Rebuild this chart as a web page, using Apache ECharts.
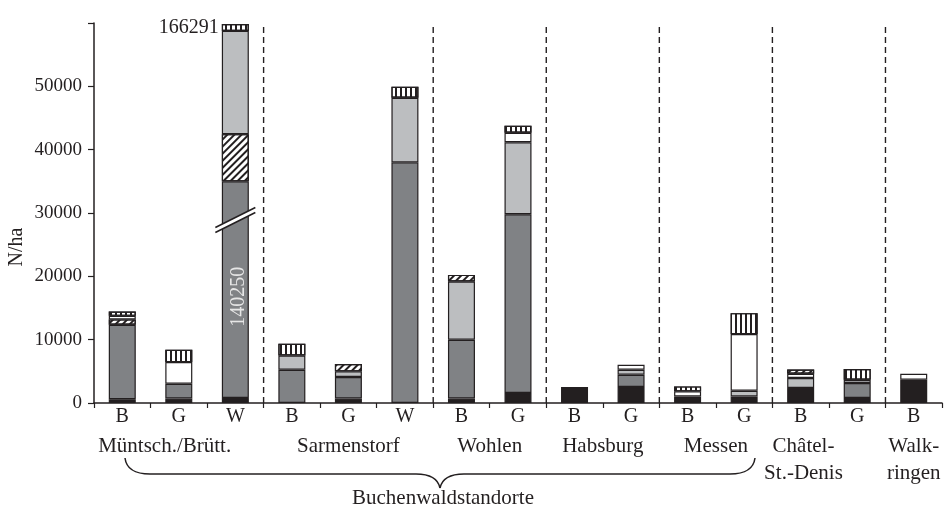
<!DOCTYPE html>
<html><head><meta charset="utf-8">
<script src="https://cdn.jsdelivr.net/npm/echarts@6/dist/echarts.min.js"></script>
<style>html,body{margin:0;padding:0;background:#fff}#c{width:946px;height:509px}</style>
</head><body><div id="c"></div>
<script>
// ---- data ----
const categories = ['B','G','W','B','G','W','B','G','B','G','B','G','B','G','B'];
const groups = ['Müntsch./Brütt.', 'Sarmenstorf', 'Wohlen', 'Habsburg', 'Messen', 'Châtel-\nSt.-Denis', 'Walk-\nringen'];
const groupSizes = [3, 3, 2, 2, 2, 2, 1];
const superGroupLabel = 'Buchenwaldstandorte';
const yName = 'N/ha';
const yTicks = [0, 10000, 20000, 30000, 40000, 50000];
const yMax = 60000;

// stacked segments, bottom to top (values shown on the broken axis for W bar)
const black     = [600, 700, 800, 0, 700, 0, 700, 1580, 2520, 2520, 1040, 1040, 2370, 790, 3670];
const darkGray  = [11750, 2340, 34200, 5250, 3400, 38000, 9280, 28220, 0, 1940, 0, 0, 0, 2370, 0];
const hatchLow  = [850, 0, 7450, 0, 0, 0, 0, 0, 0, 0, 0, 0, 0, 0, 0];
const lightGray = [0, 0, 16300, 2260, 900, 10200, 9200, 11360, 0, 800, 0, 900, 1570, 510, 0];
const white     = [560, 3420, 0, 0, 0, 0, 0, 1520, 0, 780, 800, 8940, 680, 0, 950];
const hatchHigh = [0, 0, 0, 0, 1150, 0, 1050, 0, 0, 0, 0, 0, 680, 0, 0];
const vHatch    = [690, 1940, 1100, 1840, 0, 1730, 0, 1100, 0, 0, 780, 3310, 0, 1690, 0];

const brokenIndex = 2;
const brokenDarkLabel = '140250';
const brokenTotalLabel = '166291';
const breakValue = 28900;

// ---- styles ----
const INK = '#231f20';
const FONT = 'Liberation Serif';
const border = { borderColor: INK, borderWidth: 1.2 };

function clean(arr) { return arr.map(v => v === 0 ? '-' : v); }

function barSeries(name, arr, itemStyle, extra) {
  return Object.assign({
    name, type: 'bar', stack: 'total', barWidth: 27,
    data: clean(arr), itemStyle: Object.assign({}, border, itemStyle),
    emphasis: { disabled: true }, animation: false
  }, extra || {});
}

const vDecal = { symbol: 'rect', symbolSize: 1, color: INK, dashArrayX: [2, 3], dashArrayY: [5, 0], rotation: 0 };
const dDecal = { symbol: 'rect', symbolSize: 1, color: INK, dashArrayX: [2, 3], dashArrayY: [5, 0], rotation: Math.PI / 4 };

const darkData = clean(darkGray).map((v, i) => i === brokenIndex ? {
  value: v,
  label: { show: true, position: 'inside', rotate: 90, formatter: brokenDarkLabel, color: '#e6e6e6', fontFamily: FONT, fontSize: 20, offset: [-7, 3] }
} : v);
const vData = clean(vHatch).map((v, i) => i === brokenIndex ? {
  value: v,
  label: { show: true, position: 'left', distance: 3, formatter: brokenTotalLabel, color: INK, fontFamily: FONT, fontSize: 20 }
} : v);

// group separators (category boundaries)
const boundaries = [];
{ let s = 0; for (let i = 0; i < groupSizes.length - 1; i++) { s += groupSizes[i]; boundaries.push(s); } }
// group label centres (in category units), small shifts for the original layout
const groupShift = [-0.25, 0, 0, 0, 0, -0.45, 0];
const groupCenters = [];
{ let s = 0; groupSizes.forEach((n, i) => { groupCenters.push(s + n / 2 + groupShift[i]); s += n; }); }

const chart = echarts.init(document.getElementById('c'), null, { renderer: 'canvas' });
chart.setOption({
  animation: false,
  grid: { left: 94, right: 4, top: 23, bottom: 106, containLabel: false },
  xAxis: [{
    type: 'category', data: categories, position: 'bottom',
    axisLine: { lineStyle: { color: INK, width: 1.5 } },
    axisTick: { show: true, length: 5, inside: false, lineStyle: { color: INK, width: 1.2 } },
    axisLabel: { color: INK, fontFamily: FONT, fontSize: 20, margin: 4 },
    splitLine: { show: false }
  }, {
    type: 'value', min: 0, max: categories.length, position: 'bottom', offset: 30,
    axisLine: { show: false }, axisTick: { show: false }, splitLine: { show: false },
    axisLabel: {
      customValues: groupCenters, margin: 0, color: INK, fontFamily: FONT, fontSize: 21, lineHeight: 27,
      formatter: v => { let bi = 0, bd = 1e9; groupCenters.forEach((c, i) => { if (Math.abs(c - v) < bd) { bd = Math.abs(c - v); bi = i; } }); return groups[bi]; }
    }
  }],
  yAxis: {
    type: 'value', min: 0, max: yMax, interval: 10000,
    axisLine: { show: true, lineStyle: { color: INK, width: 1.5 } },
    axisTick: { show: true, length: 6, inside: false, lineStyle: { color: INK, width: 1.2 } },
    axisLabel: { color: INK, fontFamily: FONT, fontSize: 19, margin: 12, formatter: v => yTicks.indexOf(v) >= 0 ? String(v) : '' },
    splitLine: { show: false }
  },
  series: [
    barSeries('black', black, { color: INK }),
    Object.assign(barSeries('darkGray', darkGray, { color: '#808285' }), { data: darkData }),
    barSeries('hatchLow', hatchLow, { color: '#fff', decal: dDecal }),
    barSeries('lightGray', lightGray, { color: '#bcbec0' }),
    barSeries('white', white, { color: '#fff' }),
    barSeries('hatchHigh', hatchHigh, { color: '#fff', decal: dDecal }),
    Object.assign(barSeries('vHatch', vHatch, { color: '#fff', decal: vDecal }), { data: vData }),
    {
      type: 'custom', name: 'separators', z: 1, silent: true,
      data: boundaries.map(b => [b, 0, yMax]),
      renderItem: (params, api) => {
        const half = api.size([1, 0])[0] / 2;
        const p0 = api.coord([api.value(0), api.value(1)]);
        const p1 = api.coord([api.value(0), api.value(2)]);
        const x = p0[0] - half;
        return { type: 'line', shape: { x1: x, y1: p0[1], x2: x, y2: p1[1] }, style: { stroke: INK, lineWidth: 1.4, lineDash: [6, 4] } };
      }
    },
    {
      type: 'custom', name: 'break', z: 5, silent: true,
      data: [[brokenIndex, breakValue]],
      renderItem: (params, api) => {
        const p = api.coord([api.value(0), api.value(1)]);
        const hw = 20, dy = 10, g = 2.5;
        return { type: 'group', children: [
          { type: 'polygon', shape: { points: [[p[0]-hw, p[1]+dy-g], [p[0]+hw, p[1]-dy-g], [p[0]+hw, p[1]-dy+g], [p[0]-hw, p[1]+dy+g]] }, style: { fill: '#fff' } },
          { type: 'line', shape: { x1: p[0]-hw, y1: p[1]+dy-g, x2: p[0]+hw, y2: p[1]-dy-g }, style: { stroke: INK, lineWidth: 1.5 } },
          { type: 'line', shape: { x1: p[0]-hw, y1: p[1]+dy+g, x2: p[0]+hw, y2: p[1]-dy+g }, style: { stroke: INK, lineWidth: 1.5 } }
        ]};
      }
    }
  ],
  graphic: [
    { type: 'text', x: 17, y: 247, rotation: Math.PI / 2, style: { text: yName, fill: INK, font: '20px "Liberation Serif"', align: 'center', verticalAlign: 'middle' } },
    { type: 'group', children: [
      { type: 'bezierCurve', shape: { x1: 125, y1: 458, cpx1: 127, cpy1: 474, x2: 150, y2: 474 }, style: { fill: null, stroke: INK, lineWidth: 1.5 } },
      { type: 'line', shape: { x1: 150, y1: 474, x2: 416, y2: 474 }, style: { stroke: INK, lineWidth: 1.5 } },
      { type: 'bezierCurve', shape: { x1: 416, y1: 474, cpx1: 437, cpy1: 474, x2: 440, y2: 488 }, style: { fill: null, stroke: INK, lineWidth: 1.5 } },
      { type: 'bezierCurve', shape: { x1: 440, y1: 488, cpx1: 443, cpy1: 474, x2: 464, y2: 474 }, style: { fill: null, stroke: INK, lineWidth: 1.5 } },
      { type: 'line', shape: { x1: 464, y1: 474, x2: 730, y2: 474 }, style: { stroke: INK, lineWidth: 1.5 } },
      { type: 'bezierCurve', shape: { x1: 730, y1: 474, cpx1: 753, cpy1: 474, x2: 755, y2: 458 }, style: { fill: null, stroke: INK, lineWidth: 1.5 } }
    ] },
    { type: 'text', x: 443, y: 498, style: { text: superGroupLabel, fill: INK, font: '21px "Liberation Serif"', align: 'center', verticalAlign: 'middle' } }
  ]
});
</script>
</body></html>
